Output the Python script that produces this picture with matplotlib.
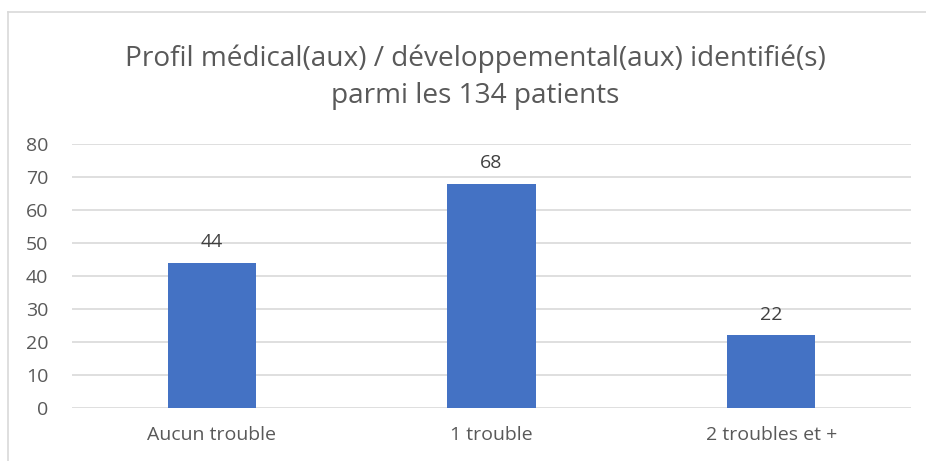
import matplotlib.pyplot as plt
from matplotlib.lines import Line2D

categories = ["Aucun trouble", "1 trouble", "2 troubles et +"]
values = [44, 68, 22]
title = "Profil médical(aux) / développemental(aux) identifié(s)\nparmi les 134 patients"

plt.rcParams['font.family'] = ['Open Sans', 'DejaVu Sans']
txt = "#595959"

fig = plt.figure(figsize=(9.26, 4.61), dpi=100)
ax = fig.add_axes([72 / 926, 53 / 461, 839 / 926, 264 / 461])

x = range(len(categories))
ax.bar(x, values, width=0.315, color="#4472C4", zorder=3)
for i, v in zip(x, values):
    ax.text(i, v + 3.5, str(v), ha="center", va="bottom", fontsize=14, color="#404040")

ax.set_xlim(-0.5, 2.5)
ax.set_ylim(0, 80)
ax.set_yticks(range(0, 81, 10))
ax.set_xticks(list(x))
ax.set_xticklabels(categories)
ax.tick_params(length=0, labelsize=14, labelcolor=txt)
ax.tick_params(axis="y", pad=17)
ax.tick_params(axis="x", pad=13)
ax.grid(axis="y", color="#d9d9d9", linewidth=1.2, zorder=0)
for s in ax.spines.values():
    s.set_visible(False)

fig.text(475 / 926, 1 - 77 / 461, title, ha="center", va="center",
         fontsize=20.2, color=txt, linespacing=1.45)

# chart border (top and left visible)
fig.add_artist(Line2D([8 / 926, 1], [1 - 12 / 461] * 2, color="#d9d9d9", lw=1.2))
fig.add_artist(Line2D([8 / 926] * 2, [0, 1 - 12 / 461], color="#d9d9d9", lw=1.2))

fig.savefig("out.png", dpi=100)
